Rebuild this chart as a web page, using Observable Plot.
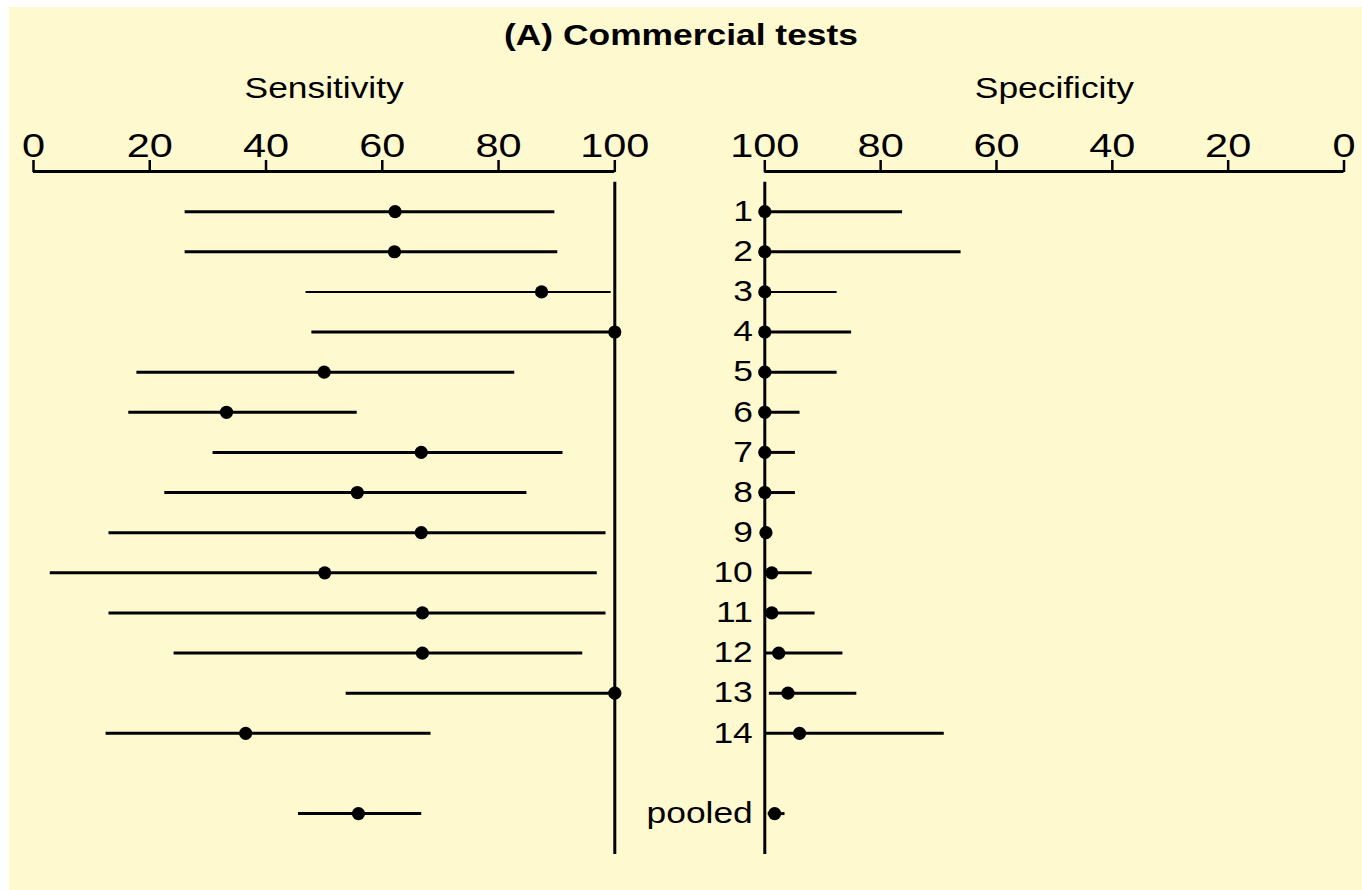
<!DOCTYPE html>
<html>
<head>
<meta charset="utf-8">
<script src="https://cdn.jsdelivr.net/npm/d3@7"></script>
<script src="https://cdn.jsdelivr.net/npm/@observablehq/plot@0.6"></script>
<style>
  html, body { margin: 0; padding: 0; background: #ffffff; }
  #fig { position: relative; width: 1362px; height: 890px; overflow: hidden;
         font-family: "Liberation Sans", Arial, Helvetica, sans-serif; color: #000; }
  #bg { position: absolute; left: 9px; top: 7px; right: 0; bottom: 0; background: #FFF9D0; }
  #title { position: absolute; left: 0; top: 21px; width: 1362px; text-align: center;
           font-weight: bold; font-size: 29px; line-height: 29px;
           transform: scaleX(1.22); transform-origin: 681px 50%; }
  .panel { position: absolute; top: 0; }
  #left { left: 0; }
  #right { left: 690px; }
</style>
</head>
<body>
<div id="fig">
  <div id="bg"></div>
  <div id="title">(A) Commercial tests</div>
  <div id="left" class="panel"></div>
  <div id="right" class="panel"></div>
</div>
<script>
// ---- data ----
const testLabels = ["1","2","3","4","5","6","7","8","9","10","11","12","13","14","pooled"];
const rowIndex   = [1,2,3,4,5,6,7,8,9,10,11,12,13,14,16];

const sensPoint = [62.2, 62.1, 87.4, 100, 50.0, 33.2, 66.7, 55.7, 66.7, 50.1, 66.9, 66.9, 100, 36.5, 55.9];
const sensLow   = [26.0, 26.0, 46.8, 47.8, 17.7, 16.3, 30.8, 22.5, 12.9, 2.8, 12.9, 24.1, 53.7, 12.4, 45.5];
const sensHigh  = [89.6, 90.1, 99.3, 100, 82.7, 55.6, 91.0, 84.8, 98.4, 96.9, 98.4, 94.4, 100, 68.3, 66.7];

const specPoint = [100, 100, 100, 100, 100, 100, 100, 100, 99.8, 98.8, 98.8, 97.6, 96.0, 94.0, 98.3];
const specLow   = [100, 100, 100, 100, 100, 100, 100, 100, 100, 100, 100, 100, 99.3, 100, 99.5];
const specHigh  = [76.3, 66.2, 87.6, 85.1, 87.6, 94.0, 94.8, 94.8, 100, 91.9, 91.4, 86.6, 84.2, 69.1, 96.6];

const thinRows = ["3"];
const axisTicks = [0, 20, 40, 60, 80, 100];
const referenceValue = [100];
const panelTitles = ["Sensitivity", "Specificity"];
const yDomain = [0, 17.02];
const refLineStart = 0.27;

// ---- table built from arrays ----
const data = testLabels.map((t, i) => ({
  test: t, row: rowIndex[i],
  sens: sensPoint[i], sensLo: sensLow[i], sensHi: sensHigh[i],
  spec: specPoint[i], specLo: specLow[i], specHi: specHigh[i],
  weight: thinRows.includes(t) ? 2 : 3
}));

const FONT = '"Liberation Sans", Arial, Helvetica, sans-serif';
const SX = 1.22;

// widen glyphs horizontally around each text's anchor point
function stretchText(svg, s) {
  svg.querySelectorAll("text").forEach(t => {
    const tr = t.getAttribute("transform") || "";
    const x = t.getAttribute("x");
    let extra = "";
    if (x != null && isFinite(+x)) {
      extra = ` translate(${+x},0)`;
      t.removeAttribute("x");
    }
    t.setAttribute("transform", `${tr}${extra} scale(${s},1)`);
  });
}

function panel({width, marginLeft, marginRight, domain, value, lo, hi, title, rowLabels}) {
  const marks = [
    Plot.axisX({anchor: "top", ticks: axisTicks, tickSize: 12, tickPadding: 3,
                fontSize: 34, strokeWidth: 2.5, label: null}),
    Plot.ruleY([0], {strokeWidth: 3, stroke: "black"}),
    Plot.ruleX(referenceValue, {y1: refLineStart, y2: yDomain[1], strokeWidth: 3, stroke: "black"}),
    Plot.link(data, {x1: lo, x2: hi, y1: "row", y2: "row", stroke: "black",
                     strokeWidth: "weight"}),
    Plot.dot(data, {x: value, y: "row", r: 6.6, fill: "black", stroke: null}),
    Plot.text([title], {frameAnchor: "top", dy: -74, lineAnchor: "bottom", fontSize: 29, fill: "black"})
  ];
  if (rowLabels) {
    marks.push(Plot.text(data, {y: "row", text: "test", frameAnchor: "left", textAnchor: "end",
                                dx: -12, fontSize: 29, fill: "black"}));
  }
  const svg = Plot.plot({
    width, height: 890,
    marginTop: 171, marginBottom: 36, marginLeft, marginRight,
    x: {domain, axis: null},
    y: {domain: yDomain, reverse: true, axis: null},
    style: {background: "transparent", color: "black", fontFamily: FONT, overflow: "visible", maxWidth: "none"},
    marks
  });
  stretchText(svg, SX);
  return svg;
}

document.getElementById("left").appendChild(panel({
  width: 690, marginLeft: 33, marginRight: 75.7, domain: [0, 100],
  value: "sens", lo: "sensLo", hi: "sensHi", title: panelTitles[0], rowLabels: false
}));
document.getElementById("right").appendChild(panel({
  width: 672, marginLeft: 74.3, marginRight: 18.5, domain: [100, 0],
  value: "spec", lo: "specLo", hi: "specHi", title: panelTitles[1], rowLabels: true
}));
</script>
</body>
</html>
